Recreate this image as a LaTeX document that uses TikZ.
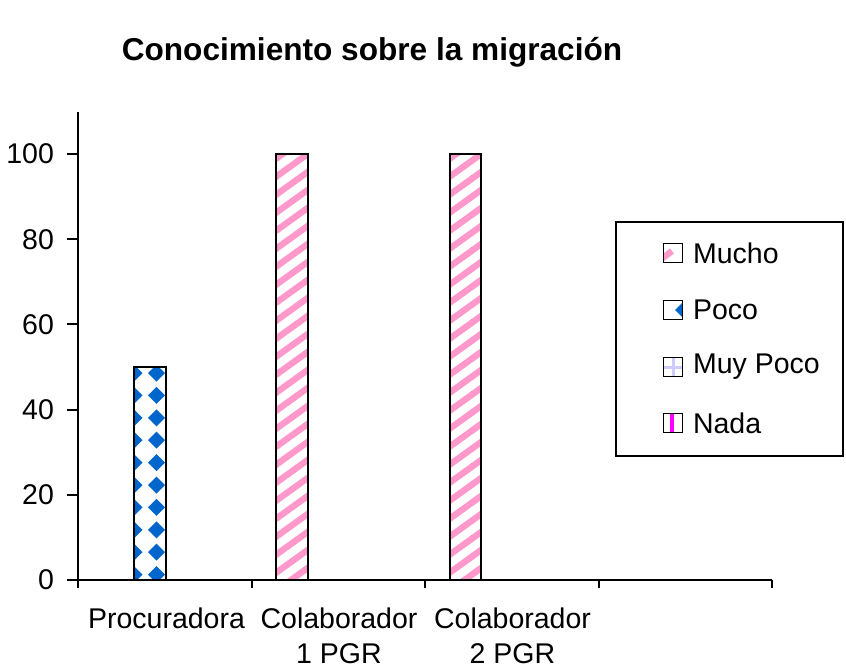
\documentclass[tikz,border=0pt]{standalone}
\usepackage{fontspec}
\setmainfont{Liberation Sans}
\usepackage{xcolor}
\definecolor{mucho}{HTML}{FF99CC}
\definecolor{poco}{HTML}{0066CC}
\definecolor{muypoco}{HTML}{CCCCFF}
\definecolor{nada}{HTML}{FF00FF}
\tikzset{
  lbl/.style={font=\fontsize{14.25}{16}\selectfont},
  barbox/.style={draw=black,line width=1pt},
  swatch/.style={draw=black,line width=0.9pt}
}

\begin{document}
\begin{tikzpicture}[x=0.5pt,y=0.5pt]
	\useasboundingbox (0,0) rectangle (846,666);
	% title
	\node[font=\fontsize{15.8}{18}\selectfont\bfseries] (title) at (372,614) {Conocimiento sobre la migración};

	% bars: Mucho (Colaborador 1 and 2)
	\foreach \xa in {276,449.5}{
		\begin{scope}
			\clip (\xa,86) rectangle ++(31.5,426);
			\foreach \k in {-3,...,25}
				\draw[mucho,line width=3.2pt] (\xa-10,86+\k*18) -- ++(60,43.2);
		\end{scope}
		\draw[barbox] (\xa,86) rectangle ++(31.5,426);
	}
	% bar: Poco (Procuradora)
	\begin{scope}
		\clip (134,86) rectangle ++(31.5,213);
		\foreach \k in {0,...,9}
			\foreach \xd in {134,156.5}
				\fill[poco] (\xd,293-\k*22.4) ++(-8.5,0) -- ++(8.5,8.5) -- ++(8.5,-8.5) -- ++(-8.5,-8.5) -- cycle;
	\end{scope}
	\draw[barbox] (134,86) rectangle ++(31.5,213);

	% axes
	\draw[line width=1pt] (78,86) -- (78,554);
	\draw[line width=1pt] (78,86) -- (772,86);
	\foreach \v in {0,20,...,100}{
		\draw[line width=1pt] (67,86+4.26*\v) -- (78,86+4.26*\v);
		\node[lbl,anchor=east] (y\v) at (61,86+4.26*\v) {\v};
	}
	\foreach \i in {0,...,4}
		\draw[line width=1pt] (78+173.5*\i,86) -- (78+173.5*\i,78);
	\node[lbl,anchor=base] (cat1) at (166.5,38) {Procuradora};
	\node[lbl,anchor=base] (cat2a) at (339,38) {Colaborador};
	\node[lbl,anchor=base] (cat2b) at (339,3) {1 PGR};
	\node[lbl,anchor=base] (cat3a) at (512.5,38) {Colaborador};
	\node[lbl,anchor=base] (cat3b) at (512.5,3) {2 PGR};

	% legend
	\draw[line width=1pt] (616,210) rectangle (843,444);
	% Mucho
	\begin{scope}
		\clip (663.5,403.5) rectangle ++(19,19);
		\draw[mucho,line width=3.2pt] (660,406) -- ++(12,9);
		\draw[mucho,line width=3.2pt] (676,396) -- ++(12,9);
	\end{scope}
	\draw[swatch] (663.5,403.5) rectangle ++(19,19);
	\node[lbl,anchor=west] (lmucho) at (686,413) {Mucho};
	% Poco
	\begin{scope}
		\clip (663.5,346.5) rectangle ++(19,19);
		\fill[poco] (683,356) ++(-8,0) -- ++(8,8) -- ++(8,-8) -- ++(-8,-8) -- cycle;
	\end{scope}
	\draw[swatch] (663.5,346.5) rectangle ++(19,19);
	\node[lbl,anchor=west] (lpoco) at (686,356) {Poco};
	% Muy Poco
	\draw[muypoco,line width=1.5pt] (664,299) -- (682,299);
	\draw[muypoco,line width=1.5pt] (673,290) -- (673,308);
	\draw[swatch] (663.5,289.5) rectangle ++(19,19);
	\node[lbl,anchor=west] (lmuypoco) at (686,299) {Muy Poco};
	% Nada
	\fill[nada] (670,233.5) rectangle ++(4,19);
	\draw[swatch] (663.5,233.5) rectangle ++(19,19);
	\node[lbl,anchor=west] (lnada) at (686,243) {Nada};
\end{tikzpicture}
\end{document}
